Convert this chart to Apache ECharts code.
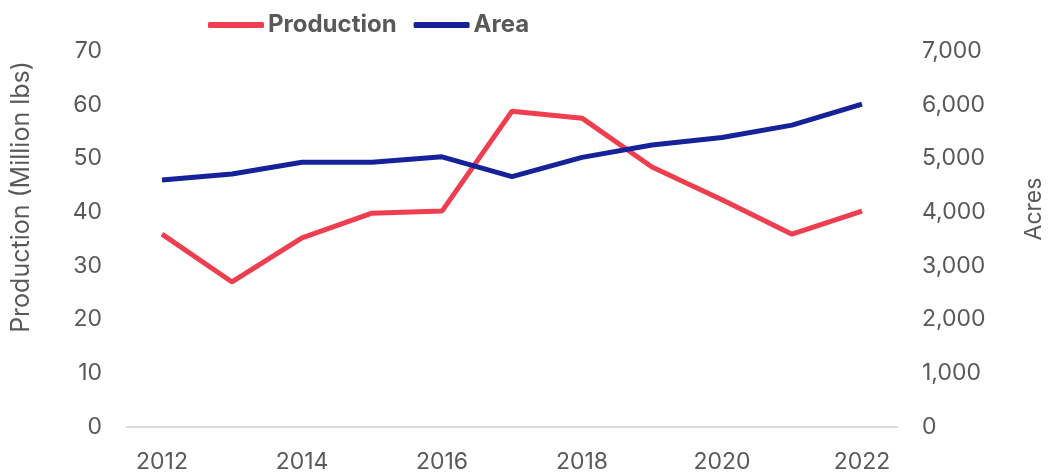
<!DOCTYPE html>
<html lang="en">
<head>
    <meta charset="UTF-8">
    <title>Production and Area</title>
    <script src="https://cdn.jsdelivr.net/npm/echarts@6.0.0/dist/echarts.min.js"></script>
    <style>
        html, body { margin: 0; padding: 0; background: #fff; }
        #chart { width: 1051px; height: 473px; }
    </style>
</head>
<body>
<div id="chart"></div>
<script>
    // data
    var years = ['2012', '2013', '2014', '2015', '2016', '2017', '2018', '2019', '2020', '2021', '2022'];
    var production = [35.9, 27.0, 35.2, 39.8, 40.2, 58.8, 57.5, 48.4, 42.3, 35.9, 40.2];
    var area = [4600, 4710, 4930, 4930, 5030, 4660, 5020, 5250, 5390, 5620, 6010];

    var grey = '#595959';
    var font = 'Inter, "Liberation Sans", sans-serif';

    var chart = echarts.init(document.getElementById('chart'));
    var option = {
        animation: false,
        grid: {
            left: 127,
            right: 154,
            top: 51,
            bottom: 46,
            outerBoundsMode: 'none',
            containLabel: false
        },
        legend: {
            top: 8,
            left: 203,
            itemWidth: 56,
            itemHeight: 6,
            itemGap: 17,
            icon: 'roundRect',
            textStyle: {
                color: grey,
                fontSize: 24,
                fontWeight: 'bold',
                fontFamily: font,
                padding: [0, 0, 0, -1]
            },
            data: ['Production', 'Area']
        },
        xAxis: {
            type: 'category',
            data: years,
            boundaryGap: true,
            axisLine: { lineStyle: { color: '#d9d9d9', width: 2 } },
            axisTick: { show: false },
            axisLabel: {
                interval: 1,
                color: grey,
                fontSize: 23,
                fontFamily: font,
                margin: 24
            }
        },
        yAxis: [{
            type: 'value',
            min: 0,
            max: 70,
            interval: 10,
            name: 'Production (Million lbs)',
            nameLocation: 'middle',
            nameGap: 93,
            nameTextStyle: {
                color: grey,
                fontSize: 25,
                fontFamily: font,
                padding: [0, 0, 0, 84]
            },
            splitLine: { show: false },
            axisLine: { show: false },
            axisTick: { show: false },
            axisLabel: { color: grey, fontSize: 23, fontFamily: font, margin: 25 }
        }, {
            type: 'value',
            min: 0,
            max: 7000,
            interval: 1000,
            name: 'Acres',
            nameLocation: 'middle',
            nameGap: 126,
            nameRotate: 90,
            nameTextStyle: {
                color: grey,
                fontSize: 23,
                fontFamily: font,
                padding: [0, 0, 0, 60]
            },
            splitLine: { show: false },
            axisLine: { show: false },
            axisTick: { show: false },
            axisLabel: {
                color: grey,
                fontSize: 23,
                fontFamily: font,
                margin: 25,
                formatter: function (v) { return v.toLocaleString('en-US'); }
            }
        }],
        series: [{
            name: 'Production',
            type: 'line',
            yAxisIndex: 0,
            data: production,
            symbol: 'none',
            lineStyle: { color: '#ef3e4f', width: 5 },
            itemStyle: { color: '#ef3e4f' }
        }, {
            name: 'Area',
            type: 'line',
            yAxisIndex: 1,
            data: area,
            symbol: 'none',
            lineStyle: { color: '#16229a', width: 5 },
            itemStyle: { color: '#16229a' }
        }]
    };
    chart.setOption(option);
</script>
</body>
</html>
